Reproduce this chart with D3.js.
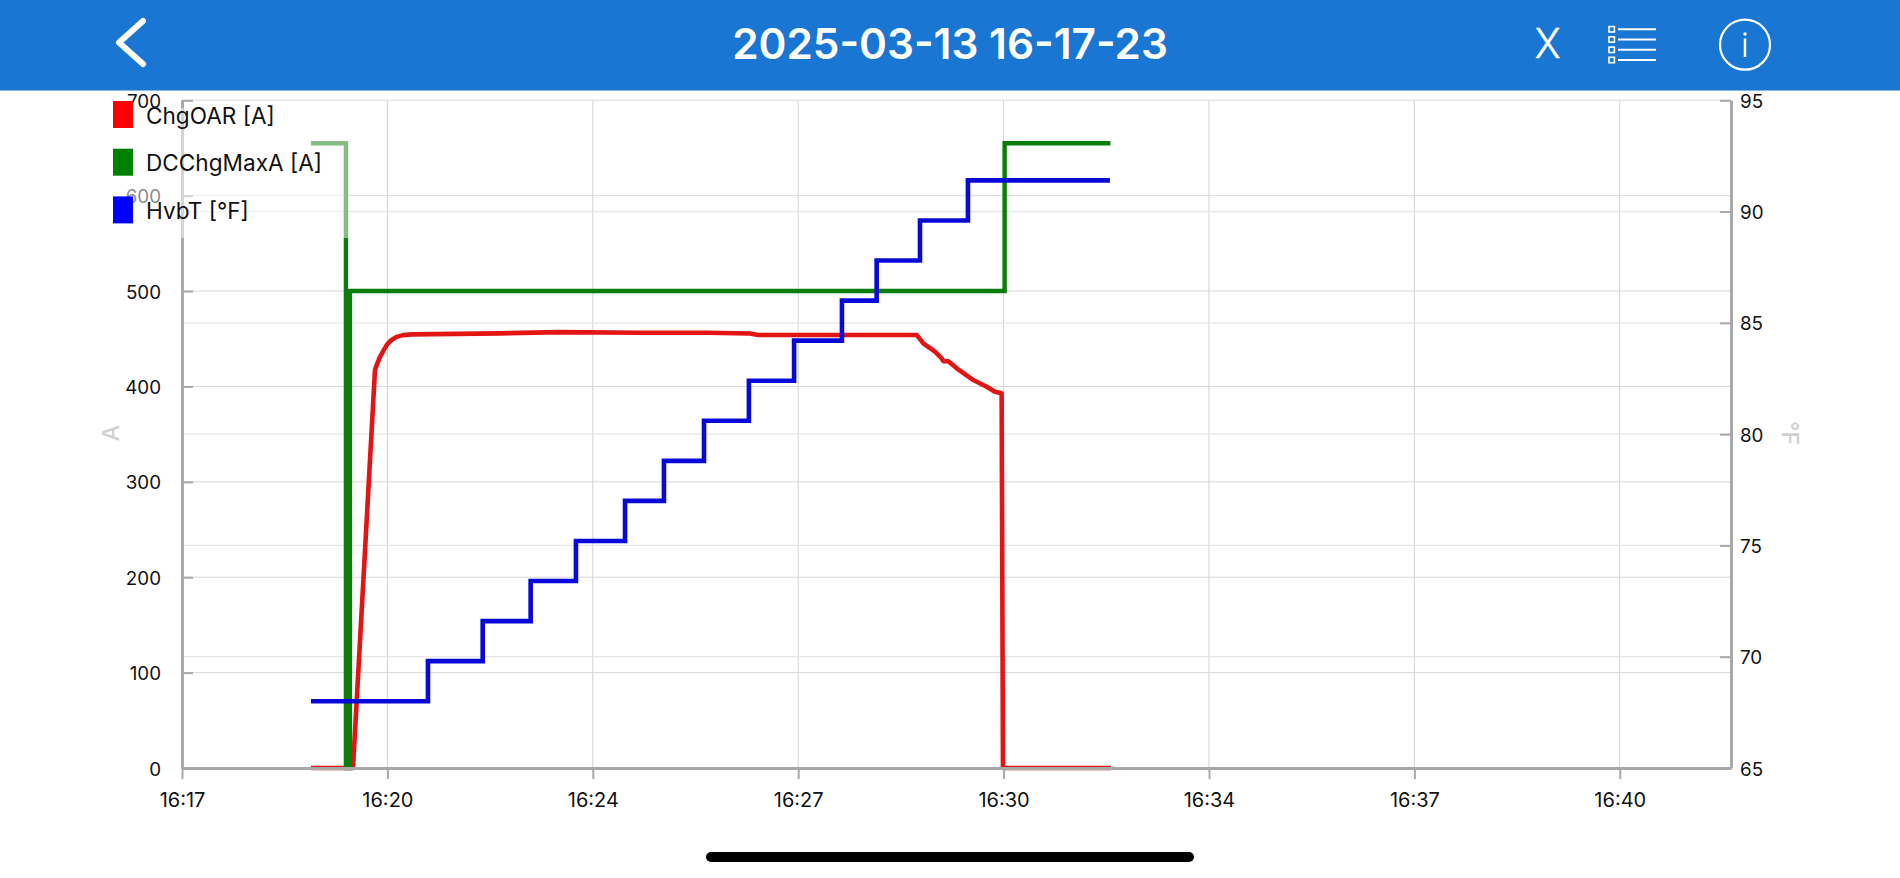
<!DOCTYPE html>
<html>
<head>
<meta charset="utf-8">
<script src="https://cdn.jsdelivr.net/npm/d3@7/dist/d3.min.js"></script>
<style>
html,body{margin:0;padding:0;background:#fff;overflow:hidden}
svg{display:block}
text{font-family:"Inter","Liberation Sans",Arial,sans-serif}
</style>
</head>
<body>
<svg id="chart" width="1900" height="878"></svg>
<script>
const titleText = "2025-03-13 16-17-23";
const xTickSeconds = [0,200,400,600,800,1000,1200,1400];
const xTickLabels = ["16:17","16:20","16:24","16:27","16:30","16:34","16:37","16:40"];
const ampTicks = [0,100,200,300,400,500,600,700];
const tempTicks = [65,70,75,80,85,90,95];

// seconds since 16:17:00
const chgOarTime = [125.6,166.5,187.9,188.9,192.8,196.2,199.9,204,209,215.2,223.7,309.6,368,446,511,553,561,715.4,721.8,733.2,739.7,741.3,746.2,754.4,770.5,783.5,791.6,798.1,799.4,904.6];
const chgOarAmps = [0,0,417,420.6,431,437.5,444.4,448.7,452,453.8,454.6,455.7,457,456.3,456.3,455.5,454,454,445.2,436.4,429.4,426.5,426.5,419,406.7,399.7,394.4,392.8,0,0];

const dcMaxTime = [125.6,159.6,159.6,163.5,163.5,801,801,904];
const dcMaxAmps = [655,655,0,0,500,500,655,655];

const hvbTime = [125.6,239.5,239.5,292.8,292.8,339.5,339.5,383.6,383.6,431.4,431.4,469.3,469.3,508.3,508.3,552,552,596,596,642.6,642.6,676.4,676.4,718.6,718.6,765.3,765.3,903.6];
const hvbTemp = [68,68,69.8,69.8,71.6,71.6,73.4,73.4,75.2,75.2,77,77,78.8,78.8,80.6,80.6,82.4,82.4,84.2,84.2,86,86,87.8,87.8,89.6,89.6,91.4,91.4];

const legendNames = ["ChgOAR [A]","DCChgMaxA [A]","HvbT [°F]"];
const legendColors = ["#ff0000","#008000","#0000ff"];

const L=182,R=1731,T=100.3,B=768;
const svg=d3.select("#chart");
const x=d3.scaleLinear().domain([0,1508.3]).range([L,R]);
const yA=d3.scaleLinear().domain([0,700]).range([B,T]);
const yT=d3.scaleLinear().domain([65,95]).range([B,T]);

// grid
const grid=svg.append("g");
grid.selectAll(".gv").data(xTickSeconds).join("line")
  .attr("x1",d=>x(d)).attr("x2",d=>x(d)).attr("y1",T).attr("y2",B).attr("stroke","#d2d2d2").attr("stroke-width",1);
grid.selectAll(".ga").data(ampTicks).join("line")
  .attr("x1",L).attr("x2",R).attr("y1",d=>yA(d)).attr("y2",d=>yA(d)).attr("stroke","#d8d8d8").attr("stroke-width",1);
grid.selectAll(".gt").data(tempTicks).join("line")
  .attr("x1",L).attr("x2",R).attr("y1",d=>yT(d)).attr("y2",d=>yT(d)).attr("stroke","#e6e6e6").attr("stroke-width",1.2);

// series
const lineGen=d3.line().x(d=>x(d[0])).y(d=>d[1]);
function drawSeries(time,vals,scale,color,w,join){
  svg.append("path").attr("fill","none").attr("stroke",color).attr("stroke-width",w)
    .attr("stroke-linejoin",join)
    .attr("d",lineGen(time.map((t,i)=>[t,scale(vals[i])])));
}

function styleAxis(g,size){
  g.selectAll("text").attr("font-size",size).attr("fill","#111");
  g.selectAll("line").attr("stroke","#a8a8a8").attr("stroke-width",2);
  g.select(".domain").attr("stroke","#a8a8a8").attr("stroke-width",3);
}
const axL=svg.append("g").attr("transform",`translate(${L},0)`)
  .call(d3.axisLeft(yA).tickValues(ampTicks).tickSizeInner(-11).tickSizeOuter(0).tickPadding(21).tickFormat(d=>d));
styleAxis(axL,18.8);
axL.selectAll("text").attr("y",1);
const axR=svg.append("g").attr("transform",`translate(${R},0)`)
  .call(d3.axisRight(yT).tickValues(tempTicks).tickSizeInner(-11).tickSizeOuter(0).tickPadding(9).tickFormat(d=>d));
styleAxis(axR,18.8);
axR.selectAll("text").attr("y",1);

drawSeries(chgOarTime,chgOarAmps,yA,"#e21414",4.6,"round");
drawSeries(dcMaxTime,dcMaxAmps,yA,"#0a7d0a",4.4,"miter");
drawSeries(hvbTime,hvbTemp,yT,"#0808d8",4.6,"miter");

const axB=svg.append("g").attr("transform",`translate(0,${B})`)
  .call(d3.axisBottom(x).tickValues(xTickSeconds).tickSizeInner(11).tickSizeOuter(0).tickPadding(15).tickFormat((d,i)=>xTickLabels[i]));
styleAxis(axB,20);
axB.selectAll("text").attr("dy","0.66em");

// axis titles
svg.append("text").attr("transform",`translate(${111},${433}) rotate(-90)`).attr("text-anchor","middle").attr("dominant-baseline","central")
  .attr("font-size",23).attr("font-weight",500).attr("fill","#d0d0d0").text("A");
svg.append("text").attr("transform",`translate(${1790},${433}) rotate(90)`).attr("text-anchor","middle").attr("dominant-baseline","central")
  .attr("font-size",23).attr("font-weight",500).attr("fill","#d0d0d0").text("°F");

// translucent legend backing
svg.append("rect").attr("x",100).attr("y",108).attr("width",248).attr("height",130).attr("fill","#fff").attr("opacity",0.5);

// legend
const lg=svg.append("g").selectAll("g").data(legendNames).join("g")
  .attr("transform",(d,i)=>`translate(113,${101+i*47.7})`);
lg.append("rect").attr("width",20).attr("height",27).attr("fill",(d,i)=>legendColors[i]);
lg.append("text").attr("x",33).attr("y",14).attr("dominant-baseline","central").attr("font-size",22.6).attr("fill","#111").text(d=>d);

// app header
const hdr=svg.append("g");
hdr.append("rect").attr("width",1900).attr("height",90).attr("fill","#1976d2");
hdr.append("rect").attr("y",90).attr("width",1900).attr("height",1).attr("fill","#8ab6e4");
hdr.append("text").attr("x",950).attr("y",43).attr("text-anchor","middle").attr("dominant-baseline","central")
  .attr("font-size",42.3).attr("font-weight",600).attr("fill","#fff").style("font-family","Inter").text(titleText);
hdr.append("path").attr("d",d3.line()([[143,21],[119,42.5],[143,64]])).attr("fill","none").attr("stroke","#fff").attr("stroke-width",6).attr("stroke-linecap","round").attr("stroke-linejoin","round");
hdr.append("text").attr("x",1547.5).attr("y",43).attr("text-anchor","middle").attr("dominant-baseline","central")
  .attr("font-size",42).attr("font-weight",300).attr("fill","#fff").attr("stroke","#fff").attr("stroke-width",0.5).style("font-family","Roboto").text("X");
[29.3,39.5,49.8,60].forEach(y=>{
  hdr.append("rect").attr("x",1609).attr("y",y-2.7).attr("width",5.4).attr("height",5.4).attr("fill","none").attr("stroke","#fff").attr("stroke-width",1.6);
  hdr.append("line").attr("x1",1618).attr("x2",1656).attr("y1",y).attr("y2",y).attr("stroke","#fff").attr("stroke-width",2);
});
hdr.append("circle").attr("cx",1745).attr("cy",44.7).attr("r",25).attr("fill","none").attr("stroke","#fff").attr("stroke-width",2.2);
hdr.append("line").attr("x1",1745).attr("x2",1745).attr("y1",38.5).attr("y2",57).attr("stroke","#fff").attr("stroke-width",2.5);
hdr.append("circle").attr("cx",1745).attr("cy",34).attr("r",1.7).attr("fill","#fff");

// home indicator
svg.append("rect").attr("x",706).attr("y",852).attr("width",488).attr("height",10).attr("rx",5).attr("fill","#000");
</script>
</body>
</html>
